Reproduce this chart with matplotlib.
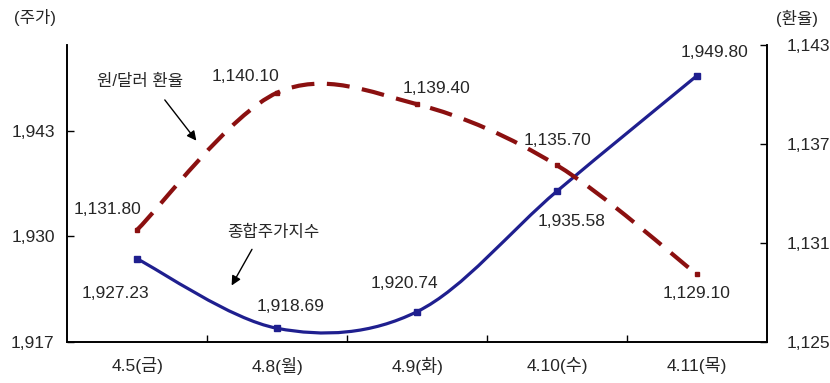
import matplotlib.pyplot as plt
from matplotlib.path import Path
from matplotlib.patches import PathPatch

plt.rcParams["font.family"] = ["Liberation Sans", "Noto Sans CJK KR", "DejaVu Sans"]

dates = ["4.5(금)", "4.8(월)", "4.9(화)", "4.10(수)", "4.11(목)"]
kospi = [1927.23, 1918.69, 1920.74, 1935.58, 1949.80]
fx = [1131.80, 1140.10, 1139.40, 1135.70, 1129.10]

kospi_ticks = [1917, 1930, 1943]
fx_ticks = [1125, 1131, 1137, 1143]

BLUE = "#1f1f8f"
RED = "#8b1010"
TXT = "#262626"


def smooth_path(xs, ys):
    # Excel-style smoothed line: Catmull-Rom segments as cubic Bezier curves
    pts = list(zip(xs, ys))
    n = len(pts)
    verts = [pts[0]]
    codes = [Path.MOVETO]
    for i in range(n - 1):
        p0 = pts[max(i - 1, 0)]
        p1 = pts[i]
        p2 = pts[i + 1]
        p3 = pts[min(i + 2, n - 1)]
        c1 = (p1[0] + (p2[0] - p0[0]) / 6, p1[1] + (p2[1] - p0[1]) / 6)
        c2 = (p2[0] - (p3[0] - p1[0]) / 6, p2[1] - (p3[1] - p1[1]) / 6)
        verts += [c1, c2, p2]
        codes += [Path.CURVE4] * 3
    return Path(verts, codes)


fig = plt.figure(figsize=(8.3, 3.83), dpi=100)
ax = fig.add_axes([0.081, 0.107, 0.843, 0.776])
ax2 = ax.twinx()

x = list(range(len(dates)))

# stock index (left axis)
ax.add_patch(PathPatch(smooth_path(x, kospi), fill=False, edgecolor=BLUE, lw=2.3,
                       capstyle="round", zorder=3))
ax.plot(x, kospi, ls="none", marker="s", ms=5, color=BLUE, zorder=4)

# exchange rate (right axis)
ax2.add_patch(PathPatch(smooth_path(x, fx), fill=False, edgecolor=RED, lw=3,
                        linestyle=(0, (5.5, 3.0)), zorder=3))
ax2.plot(x, fx, ls="none", marker="s", ms=3, color=RED, zorder=4)

ax.set_xlim(-0.5, len(dates) - 0.5)
ax.set_ylim(1917, 1953.6)
ax2.set_ylim(1125, 1143)

ax.set_yticks(kospi_ticks)
ax.set_yticklabels([f"{v:,}" for v in kospi_ticks])
ax2.set_yticks(fx_ticks)
ax2.set_yticklabels([f"{v:,}" for v in fx_ticks])

ax.set_xticks(x)
ax.set_xticklabels(dates)
ax.set_xticks([i + 0.5 for i in x[:-1]], minor=True)
ax.tick_params(axis="x", which="major", length=0, pad=11, labelsize=12.5, labelcolor=TXT)
ax.tick_params(axis="x", which="minor", direction="in", length=5, width=1)
ax.tick_params(axis="y", direction="in", length=5, width=1, pad=9, labelsize=12.5,
               labelcolor=TXT)
ax2.tick_params(axis="y", direction="in", length=5, width=1, pad=14, labelsize=12.5,
                labelcolor=TXT)

for a in (ax, ax2):
    a.spines["top"].set_visible(False)
    for s in ("left", "right", "bottom"):
        a.spines[s].set_linewidth(1.2)

# value labels (offsets in pixels from the point)
kospi_offsets = [(-22, -35), (13, 22), (-13, 28), (15, -30), (18, 23)]
fx_offsets = [(-30, 20), (-32, 16), (19, 16), (0, 25), (0, -19)]
for xi, v, off in zip(x, kospi, kospi_offsets):
    ax.annotate(f"{v:,.2f}", (xi, v), xytext=off, textcoords="offset pixels",
                ha="center", va="center", fontsize=12.5, color=TXT)
for xi, v, off in zip(x, fx, fx_offsets):
    ax2.annotate(f"{v:,.2f}", (xi, v), xytext=off, textcoords="offset pixels",
                 ha="center", va="center", fontsize=12.5, color=TXT)

# series name callouts
ax.annotate("", xy=(0.187, 0.670), xytext=(0.137, 0.822), xycoords="axes fraction",
            arrowprops=dict(arrowstyle="-|>", color="black", lw=1, mutation_scale=14))
ax.text(0.104, 0.875, "원/달러 환율", transform=ax.transAxes, ha="center", va="center",
        fontsize=12, color=TXT)
ax.annotate("", xy=(0.233, 0.182), xytext=(0.266, 0.320), xycoords="axes fraction",
            arrowprops=dict(arrowstyle="-|>", color="black", lw=1, mutation_scale=14))
ax.text(0.294, 0.370, "종합주가지수", transform=ax.transAxes, ha="center", va="center",
        fontsize=12, color=TXT)

fig.text(35 / 830, 1 - 18 / 383, "(주가)", ha="center", va="center", fontsize=12, color=TXT)
fig.text(797 / 830, 1 - 18 / 383, "(환율)", ha="center", va="center", fontsize=12, color=TXT)

fig.savefig("out.png", dpi=100)
